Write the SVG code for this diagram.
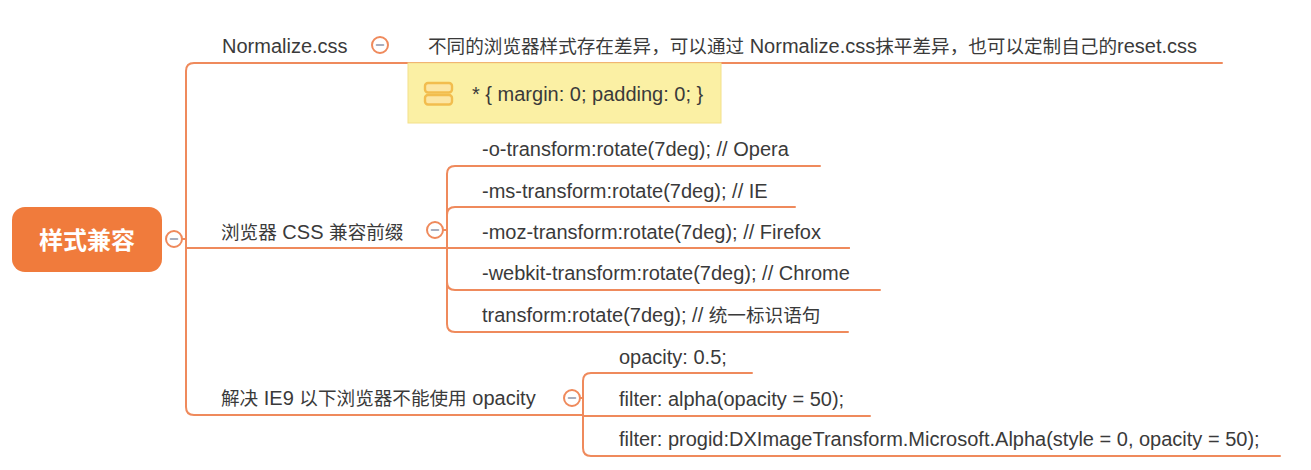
<svg xmlns="http://www.w3.org/2000/svg" width="1311" height="470" viewBox="0 0 1311 470">
<style>
.t{font-family:"Liberation Sans","Noto Sans CJK SC",sans-serif;font-size:20px;fill:#3a3a3a}
.c{font-size:18.6px}
.ln{fill:none;stroke:#EF8A5C;stroke-width:2;stroke-linecap:round}
.tog{fill:#fff;stroke:#EF8A5C;stroke-width:2}
.minus{stroke:#8a94aa;stroke-width:1.6;stroke-linecap:round}
</style>
<rect width="1311" height="470" fill="#fff"/>
<g id="connectors">
<path class="ln" d="M182,239 L186,239"/>
<path class="ln" d="M186,239 L186,71 Q186,63 194,63 L1222,63"/>
<path class="ln" d="M186,239 L186,248 L849,248"/>
<path class="ln" d="M186,239 L186,407 Q186,415 194,415 L583,415"/>
<path class="ln" d="M443,230 L447,230"/>
<path class="ln" d="M447,230 L447,174 Q447,166 455,166 L820,166"/>
<path class="ln" d="M447,230 L447,215 Q447,207 455,207 L795,207"/>
<path class="ln" d="M447,230 L447,248 L849,248"/>
<path class="ln" d="M447,230 L447,282 Q447,290 455,290 L880,290"/>
<path class="ln" d="M447,230 L447,324 Q447,332 455,332 L848,332"/>
<path class="ln" d="M580,398 L583,398"/>
<path class="ln" d="M583,398 L583,381 Q583,373 591,373 L752,373"/>
<path class="ln" d="M583,398 L583,416 L870,416"/>
<path class="ln" d="M583,398 L583,448 Q583,456 591,456 L1280,456"/>
</g>
<g id="root">
<rect x="12" y="207" width="150" height="65" rx="13" fill="#F07B3C"/>
<text x="87" y="249" text-anchor="middle" font-family="'Noto Sans CJK SC',sans-serif" font-size="24" font-weight="bold" fill="#fff">样式兼容</text>
<circle class="tog" cx="174" cy="239" r="8"/>
<line class="minus" x1="170.5" y1="239" x2="177.5" y2="239"/>
</g>
<g id="n-normalize">
<text class="t" x="222" y="53">Normalize.css</text>
<circle class="tog" cx="380" cy="45" r="8"/>
<line class="minus" x1="376.5" y1="45" x2="383.5" y2="45"/>
</g>
<g id="n-normalize-desc">
<text class="t" x="428" y="53"><tspan class="c">不同的浏览器样式存在差异，可以通过</tspan> Normalize.css<tspan class="c">抹平差异，也可以定制自己的</tspan>reset.css</text>
</g>
<g id="n-note">
<rect x="408" y="63" width="313" height="60" fill="#FBF0A4" stroke="#F3E08A" stroke-width="1"/>
<rect x="425" y="83" width="27" height="9.5" rx="3" fill="#FCE6A4" stroke="#F2BD4E" stroke-width="2.4"/>
<rect x="425" y="95" width="27" height="9.5" rx="3" fill="#FCE6A4" stroke="#F2BD4E" stroke-width="2.4"/>
<text class="t" x="472" y="101">* { margin: 0; padding: 0; }</text>
</g>
<g id="n-prefix">
<text class="t" x="221" y="239"><tspan class="c">浏览器</tspan> CSS <tspan class="c">兼容前缀</tspan></text>
<circle class="tog" cx="435" cy="230" r="8"/>
<line class="minus" x1="431.5" y1="230" x2="438.5" y2="230"/>
</g>
<g id="n-o"><text class="t" x="482" y="156">-o-transform:rotate(7deg); // Opera</text></g>
<g id="n-ms"><text class="t" x="482" y="198">-ms-transform:rotate(7deg); // IE</text></g>
<g id="n-moz"><text class="t" x="482" y="239">-moz-transform:rotate(7deg); // Firefox</text></g>
<g id="n-webkit"><text class="t" x="482" y="280">-webkit-transform:rotate(7deg); // Chrome</text></g>
<g id="n-std"><text class="t" x="482" y="322">transform:rotate(7deg); // <tspan class="c">统一标识语句</tspan></text></g>
<g id="n-opacity">
<text class="t" x="221" y="405"><tspan class="c">解决</tspan> IE9 <tspan class="c">以下浏览器不能使用</tspan> opacity</text>
<circle class="tog" cx="572" cy="398" r="8"/>
<line class="minus" x1="568.5" y1="398" x2="575.5" y2="398"/>
</g>
<g id="n-op1"><text class="t" x="619" y="364">opacity: 0.5;</text></g>
<g id="n-op2"><text class="t" x="619" y="406">filter: alpha(opacity = 50);</text></g>
<g id="n-op3"><text class="t" x="619" y="446">filter: progid:DXImageTransform.Microsoft.Alpha(style = 0, opacity = 50);</text></g>
</svg>
